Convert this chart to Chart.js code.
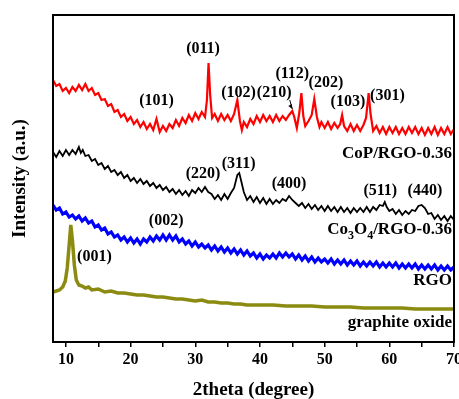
<!DOCTYPE html>
<html>
<head>
<meta charset="utf-8">
<script src="https://cdn.jsdelivr.net/npm/chart.js@4"></script>
<style>
  html, body { margin: 0; padding: 0; background: #fff; overflow: hidden; }
  #wrap { width: 465px; height: 399px; }
</style>
</head>
<body>
<div id="wrap"><canvas id="xrd" width="465" height="399"></canvas></div>
<script>
// XRD patterns, [2theta, intensity (a.u., offset stacked)]
const copPattern = [
  [8,262],[8.5,256],[9,258],[9.5,251],[10,254],[10.5,249],[11,255],[11.5,251],[12,257],[12.5,252],
  [13,258],[13.5,251],[14,254],[14.5,247],[15,249],[15.5,242],[16,243],[16.5,236],[17,238],[17.5,230],
  [18,232],[18.5,225],[19,228],[19.5,221],[20,225],[20.5,218],[21,222],[21.5,215],[22,220],[22.5,213],
  [23,218],[23.5,212],[24,223],[24.5,210],[25,216],[25.5,211],[26,218],[26.5,214],[27,222],[27.5,216],
  [28,224],[28.5,219],[29,227],[29.5,221],[30,229],[30.5,223],[31,230],[31.5,225],[31.8,242],[32.05,279],
  [32.3,247],[32.6,224],[33,228],[33.5,221],[34,228],[34.5,222],[35,227],[35.5,221],[36,228],[36.5,242],
  [36.9,221],[37.2,212],[37.5,220],[38,215],[38.5,223],[39,218],[39.5,226],[40,220],[40.5,227],[41,221],
  [41.5,226],[42,220],[42.5,227],[43,221],[43.5,226],[44,222],[44.5,227],[45,231],[45.3,225],[45.7,214],
  [46.1,230],[46.4,249],[46.7,226],[47,216],[47.5,221],[48,227],[48.4,243],[48.8,225],[49.2,215],[49.5,220],
  [50,214],[50.5,220],[51,213],[51.5,219],[52,214],[52.4,218],[52.7,227],[53,216],[53.5,211],[54,218],
  [54.5,211],[55,217],[55.5,211],[56,217],[56.4,224],[56.8,249],[57.1,228],[57.5,211],[58,216],[58.5,209],
  [59,215],[59.5,208],[60,215],[60.5,209],[61,215],[61.5,208],[62,214],[62.5,208],[63,215],[63.5,209],
  [64,215],[64.5,208],[65,214],[65.5,207],[66,214],[66.5,208],[67,215],[67.5,207],[68,214],[68.5,208],
  [69,215],[69.5,208],[70,213]
];

const co3o4Pattern = [
  [8,190],[8.5,185],[9,191],[9.5,186],[10,192],[10.5,187],[11,192],[11.5,188],[12,195],[12.3,189],
  [12.6,192],[13,186],[13.5,187],[14,181],[14.5,183],[15,177],[15.5,179],[16,173],[16.5,176],[17,170],
  [17.5,172],[18,167],[18.5,170],[19,164],[19.5,167],[20,161],[20.5,164],[21,159],[21.5,163],[22,158],
  [22.5,161],[23,156],[23.5,159],[24,154],[24.5,157],[25,152],[25.5,155],[26,150],[26.5,153],[27,148],
  [27.5,152],[28,147],[28.5,151],[29,146],[29.5,152],[30,149],[30.5,154],[31,150],[31.5,155],[32,150],
  [32.5,148],[33,143],[33.5,147],[34,142],[34.5,148],[35,143],[35.5,149],[36,154],[36.5,167],[36.8,169],
  [37.1,161],[37.5,150],[38,142],[38.5,146],[39,140],[39.5,145],[40,139],[40.5,144],[41,138],[41.5,143],
  [42,138],[42.5,142],[43,139],[43.5,143],[44,141],[44.5,146],[45,142],[45.5,139],[46,136],[46.5,139],
  [47,134],[47.5,138],[48,133],[48.5,137],[49,132],[49.5,136],[50,131],[50.5,136],[51,131],[51.5,135],
  [52,130],[52.5,135],[53,130],[53.5,134],[54,129],[54.5,134],[55,130],[55.5,134],[56,130],[56.5,135],
  [57,130],[57.5,135],[58,132],[58.5,137],[59,136],[59.3,140],[59.6,135],[60,131],[60.5,133],[61,128],
  [61.5,132],[62,127],[62.5,131],[63,128],[63.5,132],[64,131],[64.5,136],[65,137],[65.5,134],[66,128],
  [66.5,129],[67,123],[67.5,127],[68,122],[68.5,126],[69,121],[69.5,126],[70,122]
];

const rgoPattern = [
  [8,137],[8.5,132],[9,134],[9.5,128],[10,130],[10.5,125],[11,127],[11.5,123],[12,126],[12.5,121],
  [13,124],[13.5,119],[14,121],[14.5,115],[15,117],[15.5,112],[16,114],[16.5,108],[17,110],[17.5,105],
  [18,107],[18.5,102],[19,105],[19.5,100],[20,104],[20.5,99],[21,103],[21.5,98],[22,103],[22.5,100],
  [23,105],[23.5,101],[24,106],[24.5,102],[25,107],[25.5,102],[26,107],[26.5,102],[27,106],[27.5,100],
  [28,103],[28.5,98],[29,101],[29.5,96],[30,100],[30.5,95],[31,98],[31.5,94],[32,97],[32.5,92],
  [33,96],[33.5,91],[34,95],[34.5,90],[35,94],[35.5,89],[36,93],[36.5,88],[37,92],[37.5,87],
  [38,91],[38.5,86],[39,89],[39.5,84],[40,88],[40.5,83],[41,87],[41.5,84],[42,88],[42.5,84],
  [43,89],[43.5,85],[44,89],[44.5,85],[45,88],[45.5,83],[46,87],[46.5,82],[47,86],[47.5,81],
  [48,85],[48.5,80],[49,84],[49.5,80],[50,83],[50.5,79],[51,83],[51.5,78],[52,82],[52.5,78],
  [53,82],[53.5,77],[54,81],[54.5,77],[55,81],[55.5,76],[56,80],[56.5,76],[57,80],[57.5,76],
  [58,80],[58.5,75],[59,79],[59.5,75],[60,79],[60.5,75],[61,79],[61.5,74],[62,78],[62.5,74],
  [63,78],[63.5,74],[64,78],[64.5,73],[65,77],[65.5,73],[66,77],[66.5,73],[67,77],[67.5,72],
  [68,76],[68.5,72],[69,76],[69.5,72],[70,75]
];

const goPattern = [
  [8,50],[8.5,51],[9,52],[9.5,55],[9.9,61],[10.2,74],[10.5,97],[10.75,117],[11,102],[11.3,77],
  [11.6,62],[12,57],[12.5,56],[13,54],[13.5,55],[14,52],[15,53],[16,50],[17,51],[18,49],
  [19,49],[20,48],[21,47],[22,47],[23,46],[24,45],[25,45],[26,44],[27,43],[28,43],
  [29,42],[30,41],[31,42],[32,40],[33,40],[34,39],[35,39],[36,38],[37,38],[38,37],
  [39,37],[40,37],[42,37],[44,36],[46,36],[48,36],[50,35],[52,35],[54,35],[56,34],
  [58,34],[60,34],[62,34],[64,33],[66,33],[68,33],[70,33]
];

// reflection labels: text, 2theta, level
const peakLabels = ['(011)','(101)','(102)','(210)','(112)','(202)','(103)','(301)',
                    '(220)','(311)','(400)','(511)','(440)','(002)','(001)'];
const peakLabelAngles = [31.2, 24.0, 36.7, 42.2, 45.0, 50.2, 53.6, 59.7,
                         31.2, 36.7, 44.5, 58.6, 65.5, 25.5, 14.4];
const peakLabelLevels = [293, 241, 249, 249, 268, 259, 240, 246,
                         168, 178, 158, 151, 151, 121, 85];

// sample names ('_' marks a subscript)
const sampleNames = [['CoP/RGO-0.36'], ['Co', '_3', 'O', '_4', '/RGO-0.36'], ['RGO'], ['graphite oxide']];
const sampleNameLevels = [188, 112, 61, 19];

const serif = '"Liberation Serif", "Times New Roman", serif';

const annotate = {
  id: 'annotate',
  afterDatasetsDraw(chart) {
    const { ctx, chartArea: a, scales: { x, y } } = chart;
    ctx.save();
    ctx.strokeStyle = '#000';
    ctx.lineWidth = 2;
    ctx.strokeRect(a.left, a.top, a.right - a.left, a.bottom - a.top);

    ctx.fillStyle = '#000';
    ctx.font = 'bold 16px ' + serif;
    ctx.textAlign = 'center';
    ctx.textBaseline = 'middle';
    peakLabels.forEach((t, i) => {
      ctx.fillText(t, x.getPixelForValue(peakLabelAngles[i]), y.getPixelForValue(peakLabelLevels[i]));
    });

    // small arrow from (210) down to its peak
    const x0 = x.getPixelForValue(44.6), y0 = y.getPixelForValue(242);
    const x1 = x.getPixelForValue(45.0), y1 = y.getPixelForValue(233);
    ctx.lineWidth = 1;
    ctx.beginPath(); ctx.moveTo(x0, y0); ctx.lineTo(x1, y1); ctx.stroke();
    ctx.beginPath(); ctx.moveTo(x1, y1); ctx.lineTo(x1 - 4, y1 - 3); ctx.lineTo(x1 - 0.5, y1 - 5); ctx.closePath(); ctx.fill();

    // sample names, right aligned
    ctx.textAlign = 'left';
    ctx.textBaseline = 'middle';
    const big = 'bold 17px ' + serif, small = 'bold 12px ' + serif;
    sampleNames.forEach((parts, i) => {
      let w = 0;
      parts.forEach(p => { ctx.font = p[0] === '_' ? small : big; w += ctx.measureText(p.replace('_', '')).width; });
      let px = a.right - 2 - w;
      const py = y.getPixelForValue(sampleNameLevels[i]);
      parts.forEach(p => {
        const sub = p[0] === '_';
        const s = p.replace('_', '');
        ctx.font = sub ? small : big;
        ctx.fillText(s, px, sub ? py + 6 : py);
        px += ctx.measureText(s).width;
      });
    });
    ctx.restore();
  }
};

const line = (data, color, width) => ({
  data: data.map(p => ({ x: p[0], y: p[1] })),
  borderColor: color,
  borderWidth: width,
  pointRadius: 0,
  tension: 0,
  fill: false
});

new Chart(document.getElementById('xrd'), {
  type: 'line',
  data: {
    datasets: [
      line(goPattern, '#8b8b12', 3.5),
      line(rgoPattern, '#0000ff', 3.2),
      line(co3o4Pattern, '#000000', 1.8),
      line(copPattern, '#ff0000', 2.2)
    ]
  },
  options: {
    responsive: false,
    animation: false,
    devicePixelRatio: 1,
    layout: { padding: { top: 15, left: 0, right: 0, bottom: 0 } },
    plugins: { legend: { display: false }, tooltip: { enabled: false } },
    scales: {
      x: {
        type: 'linear',
        min: 8,
        max: 70,
        border: { display: true, color: '#000', width: 2 },
        grid: { display: true, drawOnChartArea: false, drawTicks: true, tickLength: 5, color: '#000', lineWidth: 1.5 },
        ticks: {
          stepSize: 5,
          includeBounds: false,
          autoSkip: false,
          maxRotation: 0,
          padding: 3,
          color: '#000',
          font: { family: serif, size: 16, weight: 'bold' },
          callback: v => (v % 10 === 0 ? v : '')
        },
        title: {
          display: true,
          text: '2theta (degree)',
          color: '#000',
          font: { family: serif, size: 19, weight: 'bold' },
          padding: { top: 0, bottom: -2 }
        },
        afterFit: s => { s.height = 57; }
      },
      y: {
        min: 0,
        max: 327,
        ticks: { display: false },
        grid: { display: false },
        border: { display: false },
        title: {
          display: true,
          text: 'Intensity (a.u.)',
          color: '#000',
          font: { family: serif, size: 19, weight: 'bold' },
          padding: { top: 9, bottom: 0 }
        },
        afterFit: s => { s.width = 53; }
      }
    }
  },
  plugins: [annotate]
});
</script>
</body>
</html>
